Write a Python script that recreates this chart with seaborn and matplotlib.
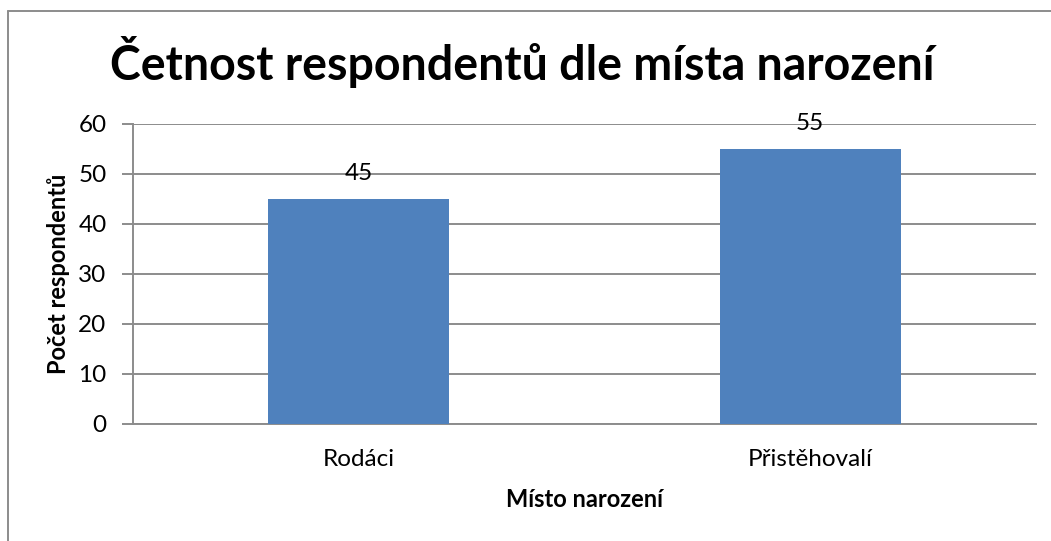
import matplotlib
matplotlib.use("Agg")
import matplotlib.pyplot as plt
from matplotlib.lines import Line2D
import seaborn as sns
import pandas as pd

categories = ["Rodáci", "Přistěhovalí"]
counts = [45, 55]
yticks = [0, 10, 20, 30, 40, 50, 60]

title = "Četnost respondentů dle místa narození"
xlabel = "Místo narození"
ylabel = "Počet respondentů"

sns.set_theme(style="white")
plt.rcParams['font.family'] = ['Lato', 'DejaVu Sans']

df = pd.DataFrame({"cat": categories, "val": counts})

W, H = 1051, 541
fig = plt.figure(figsize=(W / 100, H / 100), dpi=100)
ax = fig.add_axes([133 / W, 1 - 424 / H, (1036 - 133) / W, (424 - 124) / H])

sns.barplot(data=df, x="cat", y="val", color="#4F81BD", saturation=1,
            width=0.4, ax=ax, zorder=3)
for p in ax.patches:
    p.set_edgecolor("none")

ax.set_xlim(-0.5, 1.5)
ax.set_ylim(0, 60)
ax.set_yticks(yticks)
ax.yaxis.grid(True, color="#8C8C8C", linewidth=1.4, zorder=0)
ax.set_axisbelow(True)

for s in ["top", "right"]:
    ax.spines[s].set_visible(False)
for s in ["left", "bottom"]:
    ax.spines[s].set_color("#8C8C8C")
    ax.spines[s].set_linewidth(1.4)

ax.tick_params(axis="y", left=True, length=8, width=1.4, color="#8C8C8C",
               labelsize=17.5, pad=11, labelcolor="black")
ax.tick_params(axis="x", bottom=False, labelsize=17.5, pad=12, labelcolor="black")

ax.set_xlabel(xlabel, fontsize=17, fontweight="bold", labelpad=13, color="black")
ax.set_ylabel(ylabel, fontsize=17, fontweight="bold", labelpad=6, color="black")

for i, v in enumerate(counts):
    ax.annotate(str(v), (i, v), xytext=(0, 26), textcoords="offset pixels",
                ha="center", va="center", fontsize=17.5, color="black", zorder=5)

fig.text(522 / W, 1 - 62 / H, title, ha="center", va="center",
         fontsize=33.5, fontweight="bold", color="black")

# outer chart border (left and top edges visible)
fig.add_artist(Line2D([8 / W, 8 / W], [0, 1 - 11 / H], transform=fig.transFigure,
                      color="#8C8C8C", linewidth=1.4))
fig.add_artist(Line2D([8 / W, 1], [1 - 11 / H, 1 - 11 / H], transform=fig.transFigure,
                      color="#8C8C8C", linewidth=1.4))

fig.savefig("out.png", dpi=100)
